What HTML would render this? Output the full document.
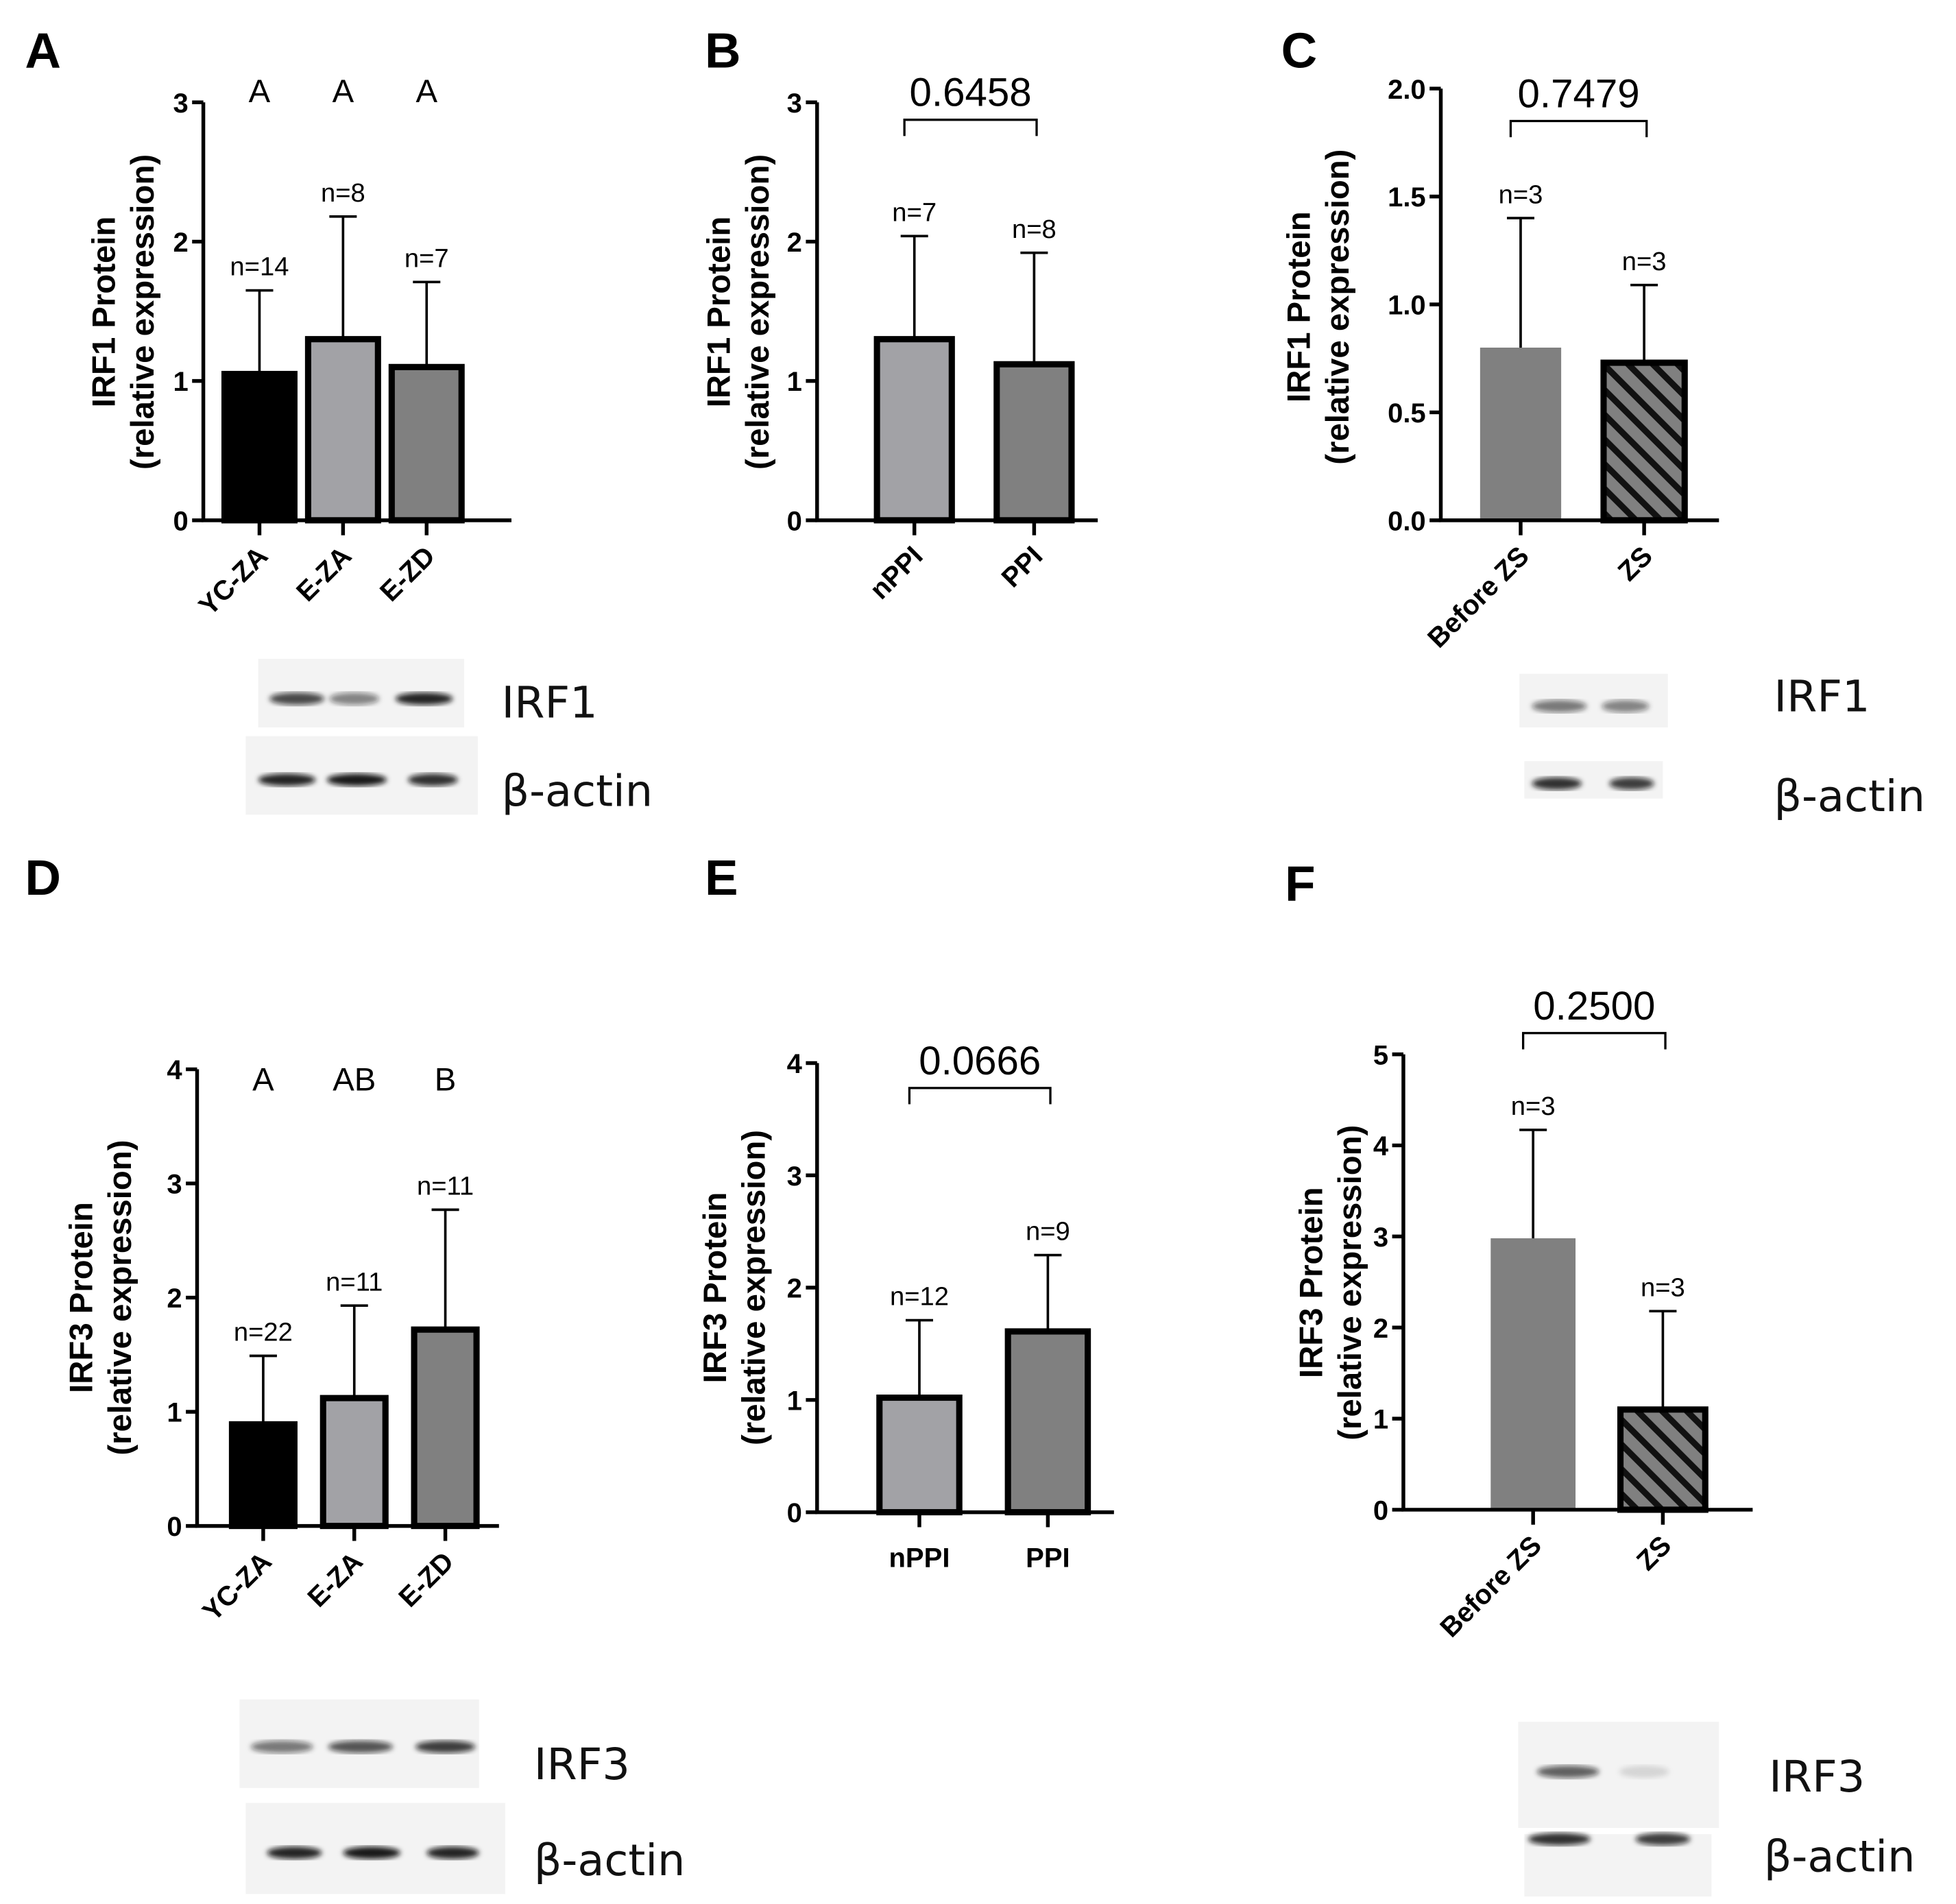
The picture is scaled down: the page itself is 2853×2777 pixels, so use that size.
<!DOCTYPE html>
<html><head><meta charset="utf-8">
<style>
html,body{margin:0;padding:0;background:#fff;}
svg{display:block;}
text{font-family:"Liberation Sans",Arial,sans-serif;}
.wb{font-family:"DejaVu Sans","Liberation Sans",sans-serif;}
</style></head>
<body>
<svg id="fig" width="2853" height="2777" viewBox="0 0 1568 1526" preserveAspectRatio="none" xmlns="http://www.w3.org/2000/svg">
<defs>
<pattern id="hatch" patternUnits="userSpaceOnUse" width="14" height="14" patternTransform="rotate(-45)">
<rect width="14" height="14" fill="#808080"/>
<rect x="0" y="0" width="5" height="14" fill="#111"/>
</pattern>
<filter id="blur"><feGaussianBlur stdDeviation="2"/></filter>
</defs>
<g id="root"></g>
</svg>
<script>
// Panel A
const catsA = ["YC-ZA","E-ZA","E-ZD"];
const valsA = [1.05,1.30,1.10];
const errA = [1.65,2.18,1.71];
const nA = ["n=14","n=8","n=7"];
const letA = ["A","A","A"];
const ticksA = [0,1,2,3];
// Panel B
const catsB = ["nPPI","PPI"];
const valsB = [1.30,1.12];
const errB = [2.04,1.92];
const nB = ["n=7","n=8"];
const ticksB = [0,1,2,3];
const pB = "0.6458";
// Panel C
const catsC = ["Before ZS","ZS"];
const valsC = [0.80,0.73];
const errC = [1.40,1.09];
const nC = ["n=3","n=3"];
const ticksC = ["0.0","0.5","1.0","1.5","2.0"];
const pC = "0.7479";
// Panel D
const catsD = ["YC-ZA","E-ZA","E-ZD"];
const valsD = [0.89,1.12,1.72];
const errD = [1.49,1.93,2.77];
const nD = ["n=22","n=11","n=11"];
const letD = ["A","AB","B"];
const ticksD = [0,1,2,3,4];
// Panel E
const catsE = ["nPPI","PPI"];
const valsE = [1.02,1.61];
const errE = [1.71,2.29];
const nE = ["n=12","n=9"];
const ticksE = [0,1,2,3,4];
const pE = "0.0666";
// Panel F
const catsF = ["Before ZS","ZS"];
const valsF = [2.98,1.10];
const errF = [4.17,2.18];
const nF = ["n=3","n=3"];
const ticksF = [0,1,2,3,4,5];
const pF = "0.2500";

const NS="http://www.w3.org/2000/svg";
const root=document.getElementById('root');
function el(tag,attrs,parent,txt){const e=document.createElementNS(NS,tag);for(const k in attrs)e.setAttribute(k,attrs[k]);if(txt!==undefined)e.textContent=txt;(parent||root).appendChild(e);return e;}

function panel(o){
  const g=el('g',{});
  
  
  const ymax=+o.ticks[o.ticks.length-1];
  const y=v=>o.y0-(v/ymax)*(o.y0-o.yTop);
  const x=i=>o.x0+o.off+i*o.step;
  const L=el('text',{x:o.lx,y:o.ly,'font-size':40,'font-weight':'bold'},g,o.id);
  
  
  o.cats.forEach((c,i)=>{
    const cx=x(i), top=y(o.vals[i]);
    const fill=o.fills[i];
    const ns=o.noStroke&&o.noStroke[i];
    const b=el('rect',{x:cx-o.bw/2,y:top,width:o.bw,height:o.y0-top,fill:fill,stroke:ns?'none':'#000','stroke-width':ns?0:5},g);
    
    
    const et=y(o.err[i]);
    const e=el('path',{d:`M${cx},${top} V${et} M${cx-11},${et} H${cx+11}`,stroke:'#000','stroke-width':2,fill:'none'},g);
    
    
    const n=el('text',{x:cx,y:et-12,'font-size':21,'text-anchor':'middle'},g,o.n[i]);
    
    
    if(o.letters){
      const t=el('text',{x:cx,y:o.letY,'font-size':26,'text-anchor':'middle'},g,o.letters[i]);
      
      
    }
    el('line',{x1:cx,y1:o.y0,x2:cx,y2:o.y0+12,stroke:'#000','stroke-width':3},g);
    let xl;
    if(o.rot){
      xl=el('text',{x:cx+8,y:o.y0+30,'font-size':22,'font-weight':'bold','text-anchor':'end',transform:`rotate(-45 ${cx+8} ${o.y0+30})`},g,c);
    } else {
      xl=el('text',{x:cx,y:o.y0+44,'font-size':22,'font-weight':'bold','text-anchor':'middle'},g,c);
    }
    
    
  });
  const ax=el('path',{d:`M${o.x0},${o.yTop} V${o.y0} H${o.xEnd}`,stroke:'#000','stroke-width':3,fill:'none'},g);
  
  
  o.ticks.forEach(t=>{
    const ty=y(+t);
    el('line',{x1:o.x0-9,y1:ty,x2:o.x0,y2:ty,stroke:'#000','stroke-width':3},g);
    const tl=el('text',{x:o.x0-12,y:ty+8,'font-size':22,'font-weight':'bold','text-anchor':'end'},g,String(t));
    
    
  });
  const yt=el('text',{transform:`translate(${o.tx},${o.ty}) rotate(-90)`,'font-size':26,'font-weight':'bold','text-anchor':'middle'},g);
  
  
  el('tspan',{x:0,y:0},yt,o.title);
  el('tspan',{x:0,y:31},yt,'(relative expression)');
  if(o.p){
    const x1=x(0)-8, x2=x(1)+2;
    const br=el('path',{d:`M${x1},${o.brY+13} V${o.brY} H${x2} V${o.brY+13}`,stroke:'#000','stroke-width':1.8,fill:'none'},g);
    
    
    const pt=el('text',{x:(x1+x2)/2,y:o.brY-11,'font-size':32,'text-anchor':'middle'},g,o.p);
    
    
  }
}

panel({id:'A',lx:20,ly:54,cats:catsA,vals:valsA,err:errA,n:nA,letters:letA,letY:82,ticks:ticksA,
  x0:163,yTop:82,y0:417,xEnd:410,off:45,step:67,bw:56,fills:['#000','#a2a2a6','#808080'],rot:true,
  tx:92,ty:250,title:'IRF1 Protein'});
panel({id:'B',lx:565,ly:54,cats:catsB,vals:valsB,err:errB,n:nB,ticks:ticksB,p:pB,brY:96,
  x0:655,yTop:82,y0:417,xEnd:880,off:78,step:96,bw:60,fills:['#a2a2a6','#808080'],rot:true,
  tx:585,ty:250,title:'IRF1 Protein'});
panel({id:'C',lx:1027,ly:54,cats:catsC,vals:valsC,err:errC,n:nC,ticks:ticksC,p:pC,brY:97,
  x0:1155,yTop:71,y0:417,xEnd:1378,off:64,step:99,bw:65,fills:['#808080','url(#hatch)'],noStroke:[true,false],rot:true,
  tx:1050,ty:246,title:'IRF1 Protein'});
panel({id:'D',lx:20,ly:717,cats:catsD,vals:valsD,err:errD,n:nD,letters:letD,letY:874,ticks:ticksD,
  x0:158,yTop:857,y0:1223,xEnd:400,off:53,step:73,bw:50,fills:['#000','#a2a2a6','#808080'],rot:true,
  tx:74,ty:1040,title:'IRF3 Protein'});
panel({id:'E',lx:565,ly:717,cats:catsE,vals:valsE,err:errE,n:nE,ticks:ticksE,p:pE,brY:872,
  x0:655,yTop:852,y0:1212,xEnd:893,off:82,step:103,bw:64,fills:['#a2a2a6','#808080'],rot:false,
  tx:582,ty:1032,title:'IRF3 Protein'});
panel({id:'F',lx:1030,ly:722,cats:catsF,vals:valsF,err:errF,n:nF,ticks:ticksF,p:pF,brY:828,
  x0:1125,yTop:845,y0:1210,xEnd:1405,off:104,step:104,bw:68,fills:['#808080','url(#hatch)'],noStroke:[true,false],rot:true,
  tx:1060,ty:1028,title:'IRF3 Protein'});

const blots = [
 {name:'blot-a-irf1',x:207,y:528,w:165,h:55,by:560,bx:[238,284,340],bwid:[44,40,46],op:[0.75,0.5,0.9],label:'IRF1',lx:402,ly:575},
 {name:'blot-a-actin',x:197,y:590,w:186,h:63,by:625,bx:[230,286,347],bwid:[46,48,40],op:[0.9,0.95,0.85],label:'β-actin',lx:402,ly:646},
 {name:'blot-c-irf1',x:1218,y:540,w:119,h:43,by:566,bx:[1250,1303],bwid:[44,38],op:[0.55,0.5],label:'IRF1',lx:1422,ly:570},
 {name:'blot-c-actin',x:1222,y:610,w:111,h:30,by:628,bx:[1248,1308],bwid:[40,36],op:[0.85,0.8],label:'β-actin',lx:1422,ly:650},
 {name:'blot-d-irf3',x:192,y:1362,w:192,h:71,by:1400,bx:[226,289,357],bwid:[50,52,48],op:[0.55,0.7,0.8],label:'IRF3',lx:428,ly:1426},
 {name:'blot-d-actin',x:197,y:1445,w:208,h:73,by:1485,bx:[236,298,363],bwid:[44,46,42],op:[0.9,0.95,0.9],label:'β-actin',lx:428,ly:1503},
 {name:'blot-f-irf3',x:1217,y:1380,w:161,h:85,by:1420,bx:[1257,1318],bwid:[50,40],op:[0.65,0.12],label:'IRF3',lx:1418,ly:1436},
 {name:'blot-f-actin',x:1222,y:1470,w:150,h:50,by:1474,bx:[1250,1333],bwid:[50,44],op:[0.85,0.8],label:'β-actin',lx:1414,ly:1500},
];
blots.forEach(b=>{
  const g=el('g',{});
  
  
  el('rect',{x:b.x,y:b.y,width:b.w,height:b.h,fill:'#f3f3f3'},g);
  b.bx.forEach((cx,i)=>{
    el('ellipse',{cx:cx,cy:b.by,rx:b.bwid[i]/2,ry:5,fill:'#111','fill-opacity':b.op[i],filter:'url(#blur)'},g);
  });
  const t=el('text',{x:b.lx,y:b.ly,'font-size':35,'class':'wb',fill:'#111'},g,b.label);
  
  
});
</script>
</body></html>
